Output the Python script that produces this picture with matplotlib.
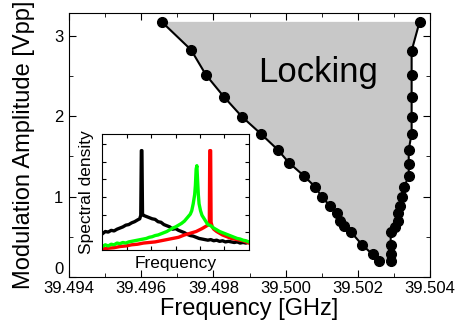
import matplotlib
matplotlib.use("Agg")
import matplotlib.pyplot as plt
import numpy as np

plt.rcParams['font.family'] = ['Liberation Sans', 'DejaVu Sans']

# locking range boundary
left_freq = [39.49657, 39.49738, 39.49779, 39.49829, 39.49879, 39.49931, 39.49978,
             39.50009, 39.50050, 39.50081, 39.50100, 39.50122, 39.50141, 39.50150,
             39.50161, 39.50180, 39.50211, 39.50241, 39.50260]
left_amp = [3.174, 2.826, 2.516, 2.242, 1.994, 1.783, 1.584, 1.422, 1.261, 1.124,
            1.000, 0.888, 0.801, 0.702, 0.640, 0.565, 0.404, 0.280, 0.205]
right_freq = [39.50291, 39.50291, 39.50291, 39.50291, 39.50302, 39.50310, 39.50310,
              39.50318, 39.50321, 39.50329, 39.50341, 39.50341, 39.50341, 39.50349,
              39.50349, 39.50349, 39.50349, 39.50349, 39.50371]
right_amp = [0.205, 0.292, 0.404, 0.565, 0.627, 0.702, 0.801, 0.888, 1.000, 1.124,
             1.261, 1.410, 1.584, 1.783, 1.994, 2.242, 2.516, 2.814, 3.174]

xticks = [39.494, 39.496, 39.498, 39.500, 39.502, 39.504]
xtick_labels = ['39.494', '39.496', '39.498', '39.500', '39.502', '39.504']
yticks = [0, 1, 2, 3]

# inset spectra (arbitrary units)
black_x = [0.00, 0.02, 0.04, 0.06, 0.08, 0.10, 0.12, 0.14, 0.16, 0.18, 0.20, 0.22, 0.24,
           0.255, 0.262, 0.266, 0.270, 0.274, 0.28, 0.30, 0.32, 0.34, 0.36, 0.38, 0.40,
           0.42, 0.44, 0.46, 0.48, 0.50, 0.52, 0.54, 0.56, 0.58, 0.60, 0.62, 0.64, 0.66,
           0.68, 0.70, 0.72, 0.74, 0.76, 0.78, 0.80, 0.82, 0.84, 0.86, 0.88, 0.90, 0.92,
           0.94, 0.96, 0.98, 1.00]
black_y = [0.14, 0.16, 0.155, 0.17, 0.165, 0.18, 0.19, 0.20, 0.215, 0.22, 0.235, 0.245,
           0.26, 0.27, 0.30, 0.86, 0.86, 0.31, 0.30, 0.29, 0.28, 0.27, 0.265, 0.245, 0.24,
           0.22, 0.21, 0.20, 0.18, 0.185, 0.17, 0.16, 0.15, 0.135, 0.125, 0.12, 0.11,
           0.10, 0.095, 0.09, 0.085, 0.09, 0.08, 0.085, 0.075, 0.08, 0.07, 0.075, 0.07,
           0.065, 0.07, 0.06, 0.065, 0.06, 0.07]
green_x = [0.00, 0.02, 0.04, 0.06, 0.08, 0.10, 0.12, 0.14, 0.16, 0.18, 0.20, 0.22, 0.24,
           0.26, 0.28, 0.30, 0.32, 0.34, 0.36, 0.38, 0.40, 0.42, 0.44, 0.46, 0.48, 0.50,
           0.52, 0.54, 0.56, 0.58, 0.60, 0.61, 0.62, 0.63, 0.635, 0.64, 0.645, 0.65,
           0.655, 0.66, 0.67, 0.68, 0.70, 0.72, 0.74, 0.76, 0.78, 0.80, 0.82, 0.84, 0.86,
           0.88, 0.90, 0.92, 0.94, 0.96, 0.98, 1.00]
green_y = [0.03, 0.045, 0.035, 0.05, 0.045, 0.06, 0.055, 0.065, 0.06, 0.07, 0.075, 0.08,
           0.085, 0.09, 0.095, 0.10, 0.11, 0.115, 0.125, 0.13, 0.14, 0.15, 0.16, 0.175,
           0.19, 0.20, 0.215, 0.23, 0.25, 0.28, 0.31, 0.34, 0.40, 0.48, 0.56, 0.70, 0.73,
           0.60, 0.48, 0.40, 0.34, 0.30, 0.26, 0.22, 0.21, 0.19, 0.175, 0.16, 0.15, 0.14,
           0.13, 0.12, 0.11, 0.10, 0.095, 0.085, 0.08, 0.07]
red_x = [0.00, 0.04, 0.08, 0.12, 0.16, 0.20, 0.24, 0.28, 0.32, 0.36, 0.40, 0.44, 0.48,
         0.52, 0.56, 0.60, 0.64, 0.68, 0.70, 0.72, 0.73, 0.733, 0.739, 0.742, 0.75, 0.76,
         0.78, 0.80, 0.82, 0.84, 0.86, 0.88, 0.90, 0.92, 0.94, 0.96, 0.98, 1.00]
red_y = [0.01, 0.015, 0.02, 0.03, 0.035, 0.045, 0.05, 0.06, 0.065, 0.07, 0.08, 0.09,
         0.10, 0.11, 0.13, 0.145, 0.16, 0.185, 0.20, 0.215, 0.24, 0.86, 0.86, 0.24, 0.20,
         0.18, 0.16, 0.145, 0.13, 0.12, 0.11, 0.10, 0.095, 0.09, 0.085, 0.08, 0.07, 0.06]

fig = plt.figure(figsize=(4.57, 3.32), dpi=100)
ax = fig.add_axes([0.151, 0.1657, 0.790, 0.7953])

# shaded locking region: down the left branch, back up the right one
ax.fill(left_freq + right_freq, left_amp + right_amp,
        color='#c8c8c8', lw=0, zorder=1)
ax.plot(left_freq, left_amp, 'k-', lw=1.5, marker='o', ms=7, zorder=3)
ax.plot(right_freq, right_amp, 'k-', lw=1.5, marker='o', ms=7, zorder=3)
ax.text(39.50089, 2.43, 'Locking', fontsize=25, ha='center', va='baseline')

ax.set_xlim(39.494, 39.504)
ax.set_ylim(0, 3.285)
ax.set_xticks(xticks)
ax.set_xticklabels(xtick_labels)
ax.set_xticks(np.arange(39.495, 39.504, 0.002), minor=True)
ax.set_yticks(yticks)
ax.set_yticks([0.5, 1.5, 2.5], minor=True)
ax.tick_params(which='both', direction='in', top=True, right=True, labelsize=12)
ax.tick_params(which='major', length=5)
ax.tick_params(which='minor', length=3)
ax.tick_params(axis='x', pad=3)
ax.tick_params(axis='y', pad=4)
# the "0" sits just above the corner so it clears 39.494
ax.get_yticklabels()[0].set_va('bottom')
ax.set_xlabel('Frequency [GHz]', fontsize=17, labelpad=1)
ax.set_ylabel('Modulation Amplitude [Vpp]', fontsize=17, labelpad=14)

# inset with spectra
ins = fig.add_axes([0.224, 0.247, 0.3206, 0.348])
ins.plot(black_x, black_y, color='black', lw=2.4)
ins.plot(red_x, red_y, color='#ff0000', lw=2.4)
ins.plot(green_x, green_y, color='#00ff00', lw=2.4)
ins.set_xlim(0, 1)
ins.set_ylim(0, 1)
ins.set_xticks(np.arange(1, 6) / 6)
ins.set_yticks(np.arange(1, 7) * 0.153)
ins.tick_params(direction='in', top=True, right=True, length=3,
                labelbottom=False, labelleft=False)
ins.set_xlabel('Frequency', fontsize=12.5, labelpad=4)
ins.set_ylabel('Spectral density', fontsize=12.5, labelpad=6)

fig.savefig('out.png', dpi=100)
